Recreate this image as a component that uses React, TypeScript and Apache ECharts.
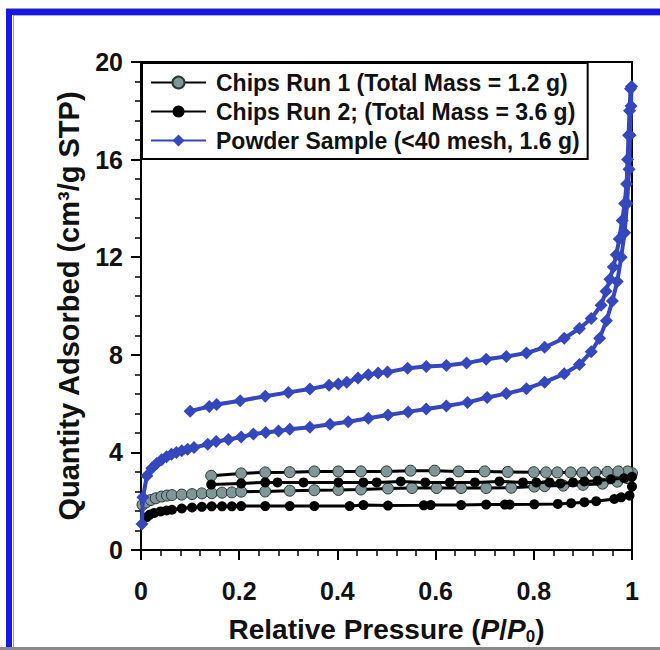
import React, { useEffect, useRef } from "react";
import * as echarts from "echarts";

// ---- Data ----
const legendNames = [
  "Chips Run 1 (Total Mass = 1.2 g)",
  "Chips Run 2; (Total Mass = 3.6 g)",
  "Powder Sample (<40 mesh, 1.6 g)",
];

const xTicks = [0, 0.2, 0.4, 0.6, 0.8, 1];
const yTicks = [0, 4, 8, 12, 16, 20];

// Powder sample: adsorption branch then desorption branch
const powderX = [
  0.002, 0.004, 0.012, 0.022, 0.032, 0.042, 0.052, 0.062, 0.072, 0.083, 0.095, 0.108, 0.136, 0.153, 0.178,
  0.204, 0.229, 0.254, 0.28, 0.303, 0.344, 0.385, 0.422, 0.463, 0.503, 0.544, 0.581, 0.622, 0.665, 0.705,
  0.744, 0.785, 0.822, 0.862, 0.893, 0.917, 0.934, 0.948, 0.96, 0.97, 0.978, 0.985, 0.99, 0.994, 0.996,
  0.998, 0.999,
  0.997, 0.995, 0.993, 0.991, 0.989, 0.985, 0.98, 0.974, 0.968, 0.962, 0.955, 0.947, 0.937, 0.917, 0.893,
  0.862, 0.822, 0.785, 0.744, 0.703, 0.663, 0.622, 0.581, 0.543, 0.502, 0.483, 0.463, 0.442, 0.419, 0.402,
  0.383, 0.344, 0.3, 0.253, 0.202, 0.154, 0.139, 0.1,
];
const powderY = [
  1.07, 2.16, 3.04, 3.35, 3.55, 3.7, 3.82, 3.92, 4.0, 4.07, 4.13, 4.2, 4.33, 4.45, 4.53,
  4.63, 4.75, 4.82, 4.88, 4.95, 5.03, 5.15, 5.26, 5.4, 5.53, 5.66, 5.78, 5.9, 6.05, 6.25,
  6.41, 6.61, 6.88, 7.22, 7.6, 8.13, 8.68, 9.4, 10.2, 11.0, 12.0, 13.0, 14.2, 15.6, 17.0,
  18.2, 19.0,
  18.9, 18.0, 17.0, 16.0, 15.0, 14.2, 13.5, 12.75, 12.1, 11.6, 11.1, 10.6, 10.03, 9.49, 9.08,
  8.68, 8.31, 8.07, 7.93, 7.82, 7.66, 7.56, 7.52, 7.45, 7.29, 7.25, 7.18, 7.05, 6.87, 6.8,
  6.75, 6.6, 6.46, 6.3, 6.12, 5.96, 5.88, 5.69,
];

// Chips run 1: adsorption then desorption
const chips1X = [
  0.003, 0.01, 0.02, 0.03, 0.042, 0.053, 0.063, 0.083, 0.104, 0.124, 0.144, 0.165, 0.185, 0.204, 0.253,
  0.303, 0.353, 0.402, 0.448, 0.503, 0.552, 0.602, 0.652, 0.703, 0.754, 0.801, 0.822, 0.86, 0.9, 0.94,
  0.97, 0.99, 1.0,
  0.991, 0.972, 0.95, 0.925, 0.899, 0.875, 0.848, 0.825, 0.8, 0.747, 0.7, 0.647, 0.598, 0.549, 0.5,
  0.448, 0.402, 0.353, 0.303, 0.253, 0.204, 0.143,
];
const chips1Y = [
  1.85, 1.95, 2.05, 2.12, 2.19, 2.23, 2.25, 2.27, 2.29, 2.32, 2.33, 2.35, 2.36, 2.39, 2.4,
  2.43, 2.45, 2.46, 2.48, 2.52, 2.54, 2.54, 2.54, 2.54, 2.55, 2.6, 2.62, 2.64, 2.67, 2.72,
  2.8, 2.95, 3.15,
  3.22, 3.22, 3.2, 3.18, 3.17, 3.18, 3.18, 3.18, 3.19, 3.2, 3.22, 3.22, 3.25, 3.25, 3.22,
  3.22, 3.22, 3.22, 3.19, 3.18, 3.14, 3.04,
];

// Chips run 2: adsorption then desorption
const chips2X = [
  0.012, 0.018, 0.027, 0.04, 0.052, 0.063, 0.083, 0.104, 0.124, 0.144, 0.165, 0.185, 0.204, 0.253, 0.303,
  0.353, 0.425, 0.453, 0.503, 0.576, 0.59, 0.652, 0.703, 0.741, 0.751, 0.801, 0.849, 0.876, 0.903, 0.927,
  0.964, 0.978, 0.995, 1.0, 1.0,
  0.984, 0.957, 0.93, 0.903, 0.88, 0.854, 0.832, 0.805, 0.778, 0.73, 0.68, 0.629, 0.579, 0.529, 0.48,
  0.453, 0.402, 0.331, 0.278, 0.253, 0.204, 0.143,
];
const chips2Y = [
  1.35, 1.45, 1.52, 1.58, 1.62, 1.65, 1.7, 1.74, 1.77, 1.79, 1.79, 1.79, 1.8, 1.8, 1.8,
  1.8, 1.8, 1.84, 1.82, 1.83, 1.84, 1.84, 1.86, 1.86, 1.86, 1.87, 1.89, 1.92, 1.96, 2.0,
  2.09, 2.16, 2.23, 2.6, 3.0,
  2.94, 2.9, 2.84, 2.81, 2.77, 2.73, 2.77, 2.77, 2.77, 2.81, 2.77, 2.77, 2.77, 2.81, 2.77,
  2.77, 2.77, 2.77, 2.77, 2.77, 2.73, 2.68,
];

const zip = (xs: number[], ys: number[]) => xs.map((x, i) => [x, ys[i]]);

const FONT = "Liberation Sans, Arial, sans-serif";
const BLUE = "#3447bc";
const GRAY = "#7f9797";
const FRAME_BLUE = "#1616ee";

export default function App() {
  const ref = useRef<HTMLDivElement>(null);

  useEffect(() => {
    if (!ref.current) return;
    const chart = echarts.init(ref.current, null, { renderer: "svg" });

    const axisCommon = {
      axisLine: { show: true, onZero: false, lineStyle: { color: "#000", width: 2 } },
      axisTick: { show: true, length: 10, lineStyle: { color: "#000", width: 2 } },
      minorTick: { show: true, splitNumber: 5, length: 6, lineStyle: { color: "#000", width: 1.5 } },
      splitLine: { show: false },
      minorSplitLine: { show: false },
    };

    chart.setOption({
      animation: false,
      backgroundColor: "#fff",
      grid: {
        left: 141,
        right: 28,
        top: 62,
        bottom: 97,
        show: true,
        borderColor: "#000",
        borderWidth: 2,
        backgroundColor: "transparent",
      },
      legend: {
        data: legendNames,
        orient: "vertical",
        left: 142,
        top: 63,
        padding: [8, 8, 7, 8],
        itemGap: 6,
        itemWidth: 55,
        itemHeight: 15,
        backgroundColor: "#fff",
        borderColor: "#000",
        borderWidth: 2,
        borderRadius: 0,
        textStyle: {
          fontFamily: FONT,
          fontWeight: "bold",
          fontSize: 23,
          color: "#111",
          padding: [0, 0, 0, 5],
        },
      },
      xAxis: {
        type: "value",
        min: 0,
        max: 1,
        interval: 0.2,
        ...axisCommon,
        axisLabel: {
          margin: 28,
          fontFamily: FONT,
          fontWeight: "bold",
          fontSize: 25,
          color: "#111",
          formatter: (v: number) => (xTicks.includes(Math.round(v * 10) / 10) ? String(Math.round(v * 10) / 10) : ""),
        },
        name: "Relative Pressure ({i|P}/{i|P}{sub|0})",
        nameLocation: "middle",
        nameGap: 64,
        nameTextStyle: {
          fontFamily: FONT,
          fontWeight: "bold",
          fontSize: 28,
          color: "#111",
          rich: {
            i: { fontFamily: FONT, fontWeight: "bold", fontStyle: "italic", fontSize: 28, color: "#111" },
            sub: { fontFamily: FONT, fontWeight: "bold", fontSize: 17, color: "#111", verticalAlign: "bottom", padding: [14, 0, 0, 0] },
          },
        },
      },
      yAxis: {
        type: "value",
        min: 0,
        max: 20,
        interval: 4,
        ...axisCommon,
        axisLabel: {
          margin: 18,
          fontFamily: FONT,
          fontWeight: "bold",
          fontSize: 25,
          color: "#111",
          formatter: (v: number) => (yTicks.includes(v) ? String(v) : ""),
        },
        name: "Quantity Adsorbed (cm³/g STP)",
        nameLocation: "middle",
        nameGap: 58,
        nameTextStyle: {
          fontFamily: FONT,
          fontWeight: "bold",
          fontSize: 29,
          color: "#111",
        },
      },
      series: [
        {
          name: legendNames[0],
          type: "line",
          data: zip(chips1X, chips1Y),
          symbol: "circle",
          symbolSize: 11,
          showAllSymbol: true,
          lineStyle: { color: "#000", width: 3 },
          itemStyle: { color: GRAY, borderColor: "#2a3535", borderWidth: 1 },
          z: 2,
        },
        {
          name: legendNames[1],
          type: "line",
          data: zip(chips2X, chips2Y),
          symbol: "circle",
          symbolSize: 10,
          showAllSymbol: true,
          lineStyle: { color: "#000", width: 3 },
          itemStyle: { color: "#000" },
          z: 3,
        },
        {
          name: legendNames[2],
          type: "line",
          data: zip(powderX, powderY),
          symbol: "diamond",
          symbolSize: 13,
          showAllSymbol: true,
          lineStyle: { color: BLUE, width: 4 },
          itemStyle: { color: BLUE },
          z: 4,
        },
      ],
      graphic: [
        { type: "rect", shape: { x: 6, y: 8, width: 660, height: 1 }, style: { fill: "#9a9a9a" }, silent: true },
        { type: "rect", shape: { x: 6, y: 9, width: 660, height: 6 }, style: { fill: FRAME_BLUE }, silent: true },
        { type: "rect", shape: { x: 6, y: 9, width: 6, height: 641 }, style: { fill: FRAME_BLUE }, silent: true },
        { type: "rect", shape: { x: 13, y: 15, width: 1, height: 635 }, style: { fill: "#9a9a9a" }, silent: true },
        { type: "rect", shape: { x: 13, y: 15, width: 650, height: 1 }, style: { fill: "#b0b0b0" }, silent: true },
        { type: "rect", shape: { x: 0, y: 647, width: 660, height: 3 }, style: { fill: "#8a8a8a" }, silent: true },
      ],
    });

    return () => chart.dispose();
  }, []);

  return (
    <div
      ref={ref}
      style={{ position: "fixed", left: 0, top: 0, width: 660, height: 650, background: "#fff" }}
    />
  );
}
